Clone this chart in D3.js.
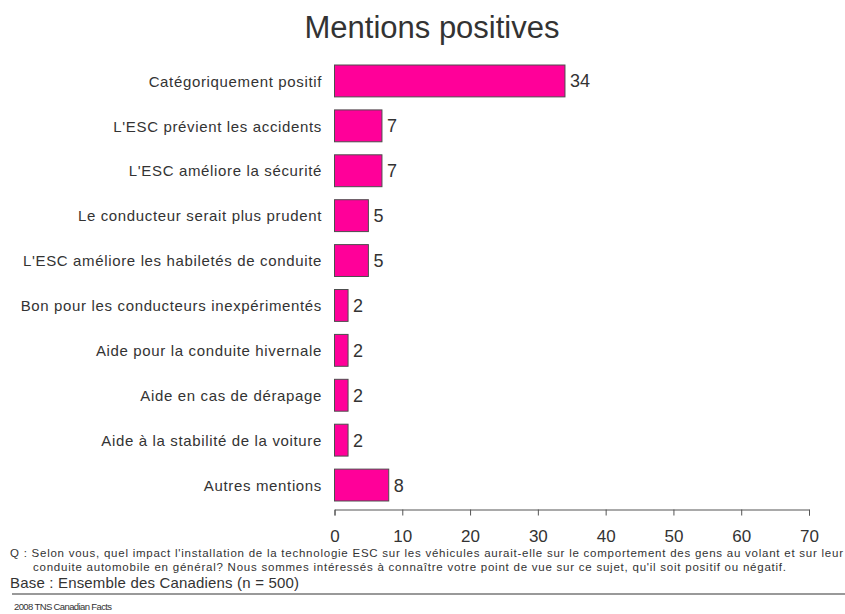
<!DOCTYPE html>
<html>
<head>
<meta charset="utf-8">
<script src="https://cdn.jsdelivr.net/npm/d3@7"></script>
<style>
  html, body { margin: 0; padding: 0; background: #fff; }
  svg { display: block; font-family: "Liberation Sans", Arial, sans-serif; }
</style>
</head>
<body>
<svg id="chart" width="845" height="614"></svg>
<script>
// Survey answers: positive mentions about ESC
const categories = [
  "Catégoriquement positif",
  "L'ESC prévient les accidents",
  "L'ESC améliore la sécurité",
  "Le conducteur serait plus prudent",
  "L'ESC améliore les habiletés de conduite",
  "Bon pour les conducteurs inexpérimentés",
  "Aide pour la conduite hivernale",
  "Aide en cas de dérapage",
  "Aide à la stabilité de la voiture",
  "Autres mentions"
];
const values = [34, 7, 7, 5, 5, 2, 2, 2, 2, 8];
const xTicks = [0, 10, 20, 30, 40, 50, 60, 70];

const titleText = "Mentions positives";
const questionLines = [
  "Q : Selon vous, quel impact l'installation de la technologie ESC sur les véhicules aurait-elle sur le comportement des gens au volant et sur leur",
  "conduite automobile en général? Nous sommes intéressés à connaître votre point de vue sur ce sujet, qu'il soit positif ou négatif."
];
const baseText = "Base : Ensemble des Canadiens (n = 500)";
const sourceText = "2008 TNS Canadian Facts";

const svg = d3.select("#chart");

const x = d3.scaleLinear().domain([0, 70]).range([334.5, 809]);
const y = d3.scaleBand().domain(categories).range([58.5, 507.5])
  .paddingInner(0.29).paddingOuter(0.145);

// Title
svg.append("text")
  .attr("x", 432).attr("y", 38)
  .attr("text-anchor", "middle")
  .attr("font-size", 31)
  .attr("fill", "#333")
  .text(titleText);

// Bars
svg.append("g").selectAll("rect")
  .data(values)
  .join("rect")
  .attr("x", x(0))
  .attr("y", (d, i) => y(categories[i]))
  .attr("width", d => x(d) - x(0))
  .attr("height", y.bandwidth())
  .attr("fill", "#FF0099")
  .attr("stroke", "#4d4d4d")
  .attr("stroke-width", 1);

// Value labels
svg.append("g").selectAll("text")
  .data(values)
  .join("text")
  .attr("x", d => x(d) + 5)
  .attr("y", (d, i) => y(categories[i]) + y.bandwidth() / 2)
  .attr("dy", "0.36em")
  .attr("font-size", 18)
  .attr("fill", "#333")
  .text(d => d);

// Category labels
svg.append("g").selectAll("text")
  .data(categories)
  .join("text")
  .attr("x", 322)
  .attr("y", d => y(d) + y.bandwidth() / 2)
  .attr("dy", "0.38em")
  .attr("text-anchor", "end")
  .attr("font-size", 15)
  .attr("letter-spacing", "0.65px")
  .attr("fill", "#333")
  .text(d => d);

// X axis
const axis = svg.append("g")
  .attr("transform", "translate(0,509.5)")
  .call(d3.axisBottom(x).tickValues(xTicks).tickSize(6).tickPadding(14).tickFormat(d3.format("d")));
axis.select(".domain").attr("stroke", "#555");
axis.selectAll(".tick line").attr("stroke", "#555");
axis.selectAll(".tick text")
  .attr("font-size", 17)
  .attr("font-family", "Liberation Sans, Arial, sans-serif")
  .attr("fill", "#333");

// Question footnote
svg.append("text")
  .attr("x", 10).attr("y", 557)
  .attr("font-size", 11.5).attr("fill", "#333")
  .attr("textLength", 833).attr("lengthAdjust", "spacing")
  .text(questionLines[0]);
svg.append("text")
  .attr("x", 33).attr("y", 571)
  .attr("font-size", 11.5).attr("fill", "#333")
  .attr("textLength", 753).attr("lengthAdjust", "spacing")
  .text(questionLines[1]);

// Base
svg.append("text")
  .attr("x", 10).attr("y", 588)
  .attr("font-size", 15).attr("fill", "#333")
  .attr("textLength", 289).attr("lengthAdjust", "spacing")
  .text(baseText);

// Separator rule
svg.append("line")
  .attr("x1", 12).attr("x2", 845)
  .attr("y1", 594).attr("y2", 594)
  .attr("stroke", "#999").attr("stroke-width", 2);

// Source
svg.append("text")
  .attr("x", 14).attr("y", 610)
  .attr("font-size", 9.5).attr("fill", "#333")
  .attr("textLength", 98).attr("lengthAdjust", "spacing")
  .text(sourceText);
</script>
</body>
</html>
